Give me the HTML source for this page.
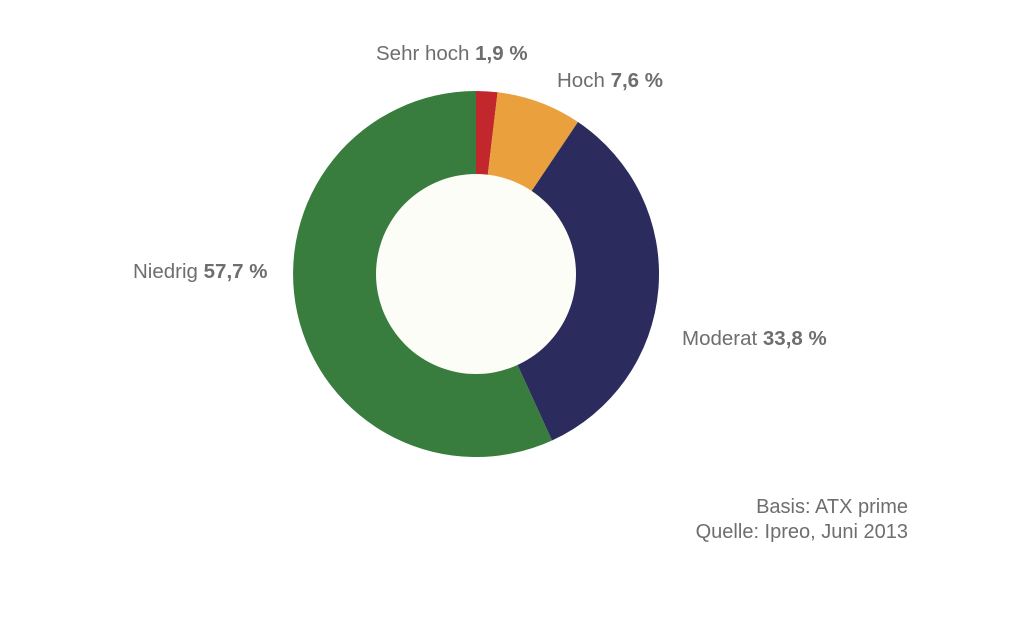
<!DOCTYPE html>
<html><head><meta charset="utf-8"><style>
html,body{margin:0;padding:0;background:#fff;}
svg{display:block;}
text{font-family:"Liberation Sans",Arial,sans-serif;font-size:20.5px;fill:#6e6e6e;}
.b{font-weight:bold;}
.f{font-size:20px;}
</style></head><body>
<svg width="1024" height="629" viewBox="0 0 1024 629" xmlns="http://www.w3.org/2000/svg">
<rect width="1024" height="629" fill="#fff"/>
<path d="M476 274 L476 91 A183 183 0 0 1 497.58 92.28 Z" fill="#c1272d"/>
<path d="M476 274 L497.58 92.28 A183 183 0 0 1 577.96 122.04 Z" fill="#eaa03c"/>
<path d="M476 274 L577.96 122.04 A183 183 0 0 1 552 440.5 Z" fill="#2c2b5d"/>
<path d="M476 274 L552 440.5 A183 183 0 1 1 476 91 Z" fill="#387c3e"/>
<circle cx="476" cy="274" r="100" fill="#fdfdf8"/>
<text x="376" y="60">Sehr hoch <tspan class="b">1,9 %</tspan></text>
<text x="557" y="87">Hoch <tspan class="b">7,6 %</tspan></text>
<text x="133" y="278">Niedrig <tspan class="b">57,7 %</tspan></text>
<text x="682" y="345">Moderat <tspan class="b">33,8 %</tspan></text>
<text class="f" x="908" y="513" text-anchor="end">Basis: ATX prime</text>
<text class="f" x="908" y="538" text-anchor="end">Quelle: Ipreo, Juni 2013</text>
</svg>
</body></html>
